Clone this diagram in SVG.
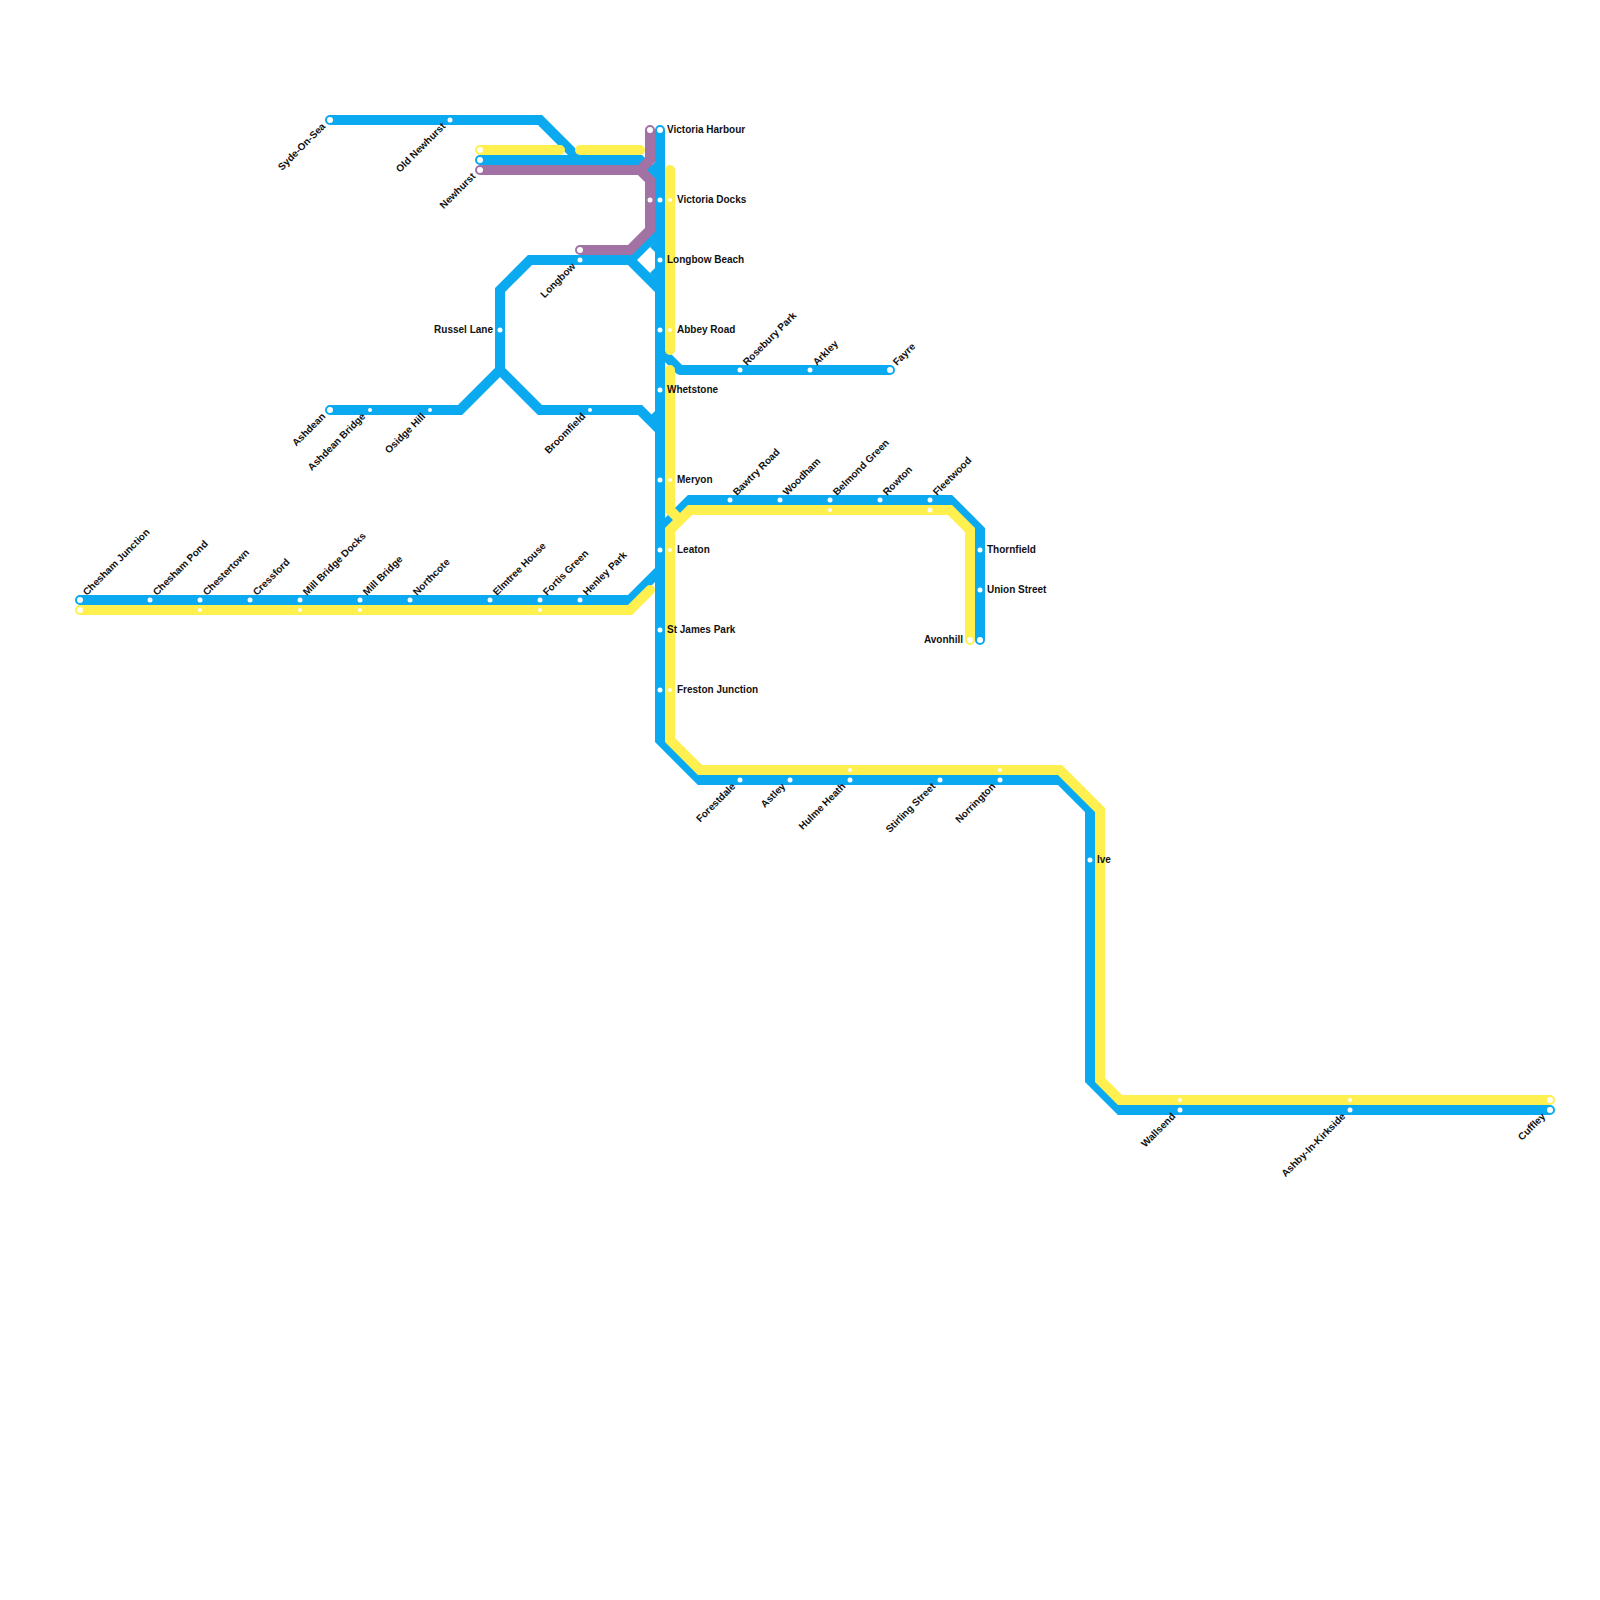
<svg xmlns="http://www.w3.org/2000/svg" width="1600" height="1600" viewBox="0 0 1600 1600">
<style>
.b,.y,.p{fill:none;stroke-width:10;stroke-linecap:round;stroke-linejoin:miter}
.b{stroke:#0baaf0}.y{stroke:#fff050}.p{stroke:#a272a5}
.butt{stroke-linecap:butt}
circle{fill:#fff}
.n{fill:#0baaf0}
text{font-family:"Liberation Sans",Arial,sans-serif;font-size:10px;font-weight:bold;fill:#111}
.e{text-anchor:end}
</style>
<rect width="1600" height="1600" fill="#fff"/>
<g id="connectors">
<path class="b" d="M330 120H540L580 160"/>
<path class="b" d="M480 160H640L660 180"/>
<polygon class="n" points="647,170 656,161 656,179"/>
<path class="b" d="M660 130V740L700 780H1060L1090 810V1080L1120 1110H1550"/>
<path class="b" d="M580 260H530L500 290V370L460 410H330"/>
<path class="b butt" d="M500 370L540 410H640L660 430"/>
<polygon class="n" points="650,416 656,410 656,426"/>
<path class="b butt" d="M580 260H630L660 290M630 260L660 230"/>
<polygon class="n" points="650,247 656,253 656,240"/>
<polygon class="n" points="650,273 656,267 656,280"/>
<path class="b butt" d="M660 350L680 370"/>
<path class="b" d="M680 370H890"/>
<path class="b" d="M80 600H630L660 570"/>
<path class="b" d="M980 640V530L950 500H690L660 530"/>
<path class="y" d="M80 610H630L650 590"/>
<path class="y" d="M480 150H560M580 150H640"/>
<path class="y" d="M670 170V350"/>
<path class="y" d="M670 370V510L680 520"/>
<path class="y" d="M970 640V530L950 510H690L670 530V740L700 770H1060L1100 810V1080L1120 1100H1550"/>
<path class="p" d="M650 130V160L640 170H480M640 170L650 180V230L630 250H580"/>
</g>
<g id="stations">
<g id="chesham-junction"><circle cx="80" cy="600" r="3"/><circle cx="80" cy="610" r="3"/><text transform="translate(87 596) rotate(-45)">Chesham Junction</text></g>
<g id="chesham-pond"><circle cx="150" cy="600" r="2.5"/><text transform="translate(157 596) rotate(-45)">Chesham Pond</text></g>
<g id="chestertown"><circle cx="200" cy="600" r="2.5"/><circle cx="200" cy="610" r="2"/><text transform="translate(207 596) rotate(-45)">Chestertown</text></g>
<g id="cressford"><circle cx="250" cy="600" r="2.5"/><text transform="translate(257 596) rotate(-45)">Cressford</text></g>
<g id="mill-bridge-docks"><circle cx="300" cy="600" r="2.5"/><circle cx="300" cy="610" r="2"/><text transform="translate(307 596) rotate(-45)">Mill Bridge Docks</text></g>
<g id="mill-bridge"><circle cx="360" cy="600" r="2.5"/><circle cx="360" cy="610" r="2"/><text transform="translate(367 596) rotate(-45)">Mill Bridge</text></g>
<g id="northcote"><circle cx="410" cy="600" r="2.5"/><text transform="translate(417 596) rotate(-45)">Northcote</text></g>
<g id="elmtree-house"><circle cx="490" cy="600" r="2.5"/><text transform="translate(497 596) rotate(-45)">Elmtree House</text></g>
<g id="fortis-green"><circle cx="540" cy="600" r="2.5"/><circle cx="540" cy="610" r="2"/><text transform="translate(547 596) rotate(-45)">Fortis Green</text></g>
<g id="henley-park"><circle cx="580" cy="600" r="2.5"/><text transform="translate(587 596) rotate(-45)">Henley Park</text></g>
<g id="syde-on-sea"><circle cx="330" cy="120" r="3"/><text class="e" transform="translate(326 127) rotate(-45)">Syde-On-Sea</text></g>
<g id="old-newhurst"><circle cx="450" cy="120" r="2.5"/><text class="e" transform="translate(446 127) rotate(-45)">Old Newhurst</text></g>
<g id="newhurst"><circle cx="480" cy="150" r="3"/><circle cx="480" cy="160" r="3"/><circle cx="480" cy="170" r="3"/><text class="e" transform="translate(476 177) rotate(-45)">Newhurst</text></g>
<g id="ashdean"><circle cx="330" cy="410" r="3"/><text class="e" transform="translate(326 417) rotate(-45)">Ashdean</text></g>
<g id="ashdean-bridge"><circle cx="370" cy="410" r="2"/><text class="e" transform="translate(366 417) rotate(-45)">Ashdean Bridge</text></g>
<g id="osidge-hill"><circle cx="430" cy="410" r="2"/><text class="e" transform="translate(426 417) rotate(-45)">Osidge Hill</text></g>
<g id="broomfield"><circle cx="590" cy="410" r="2"/><text class="e" transform="translate(586 417) rotate(-45)">Broomfield</text></g>
<g id="russel-lane"><circle cx="500" cy="330" r="2.5"/><text class="e" x="493" y="333">Russel Lane</text></g>
<g id="longbow"><circle cx="580" cy="260" r="2.5"/><circle cx="580" cy="250" r="3"/><text class="e" transform="translate(576 267) rotate(-45)">Longbow</text></g>
<g id="victoria-harbour"><circle cx="660" cy="130" r="3"/><circle cx="650" cy="130" r="3"/><text x="667" y="133">Victoria Harbour</text></g>
<g id="victoria-docks"><circle cx="650" cy="200" r="2.5"/><circle cx="660" cy="200" r="2.5"/><circle cx="670" cy="200" r="2"/><text x="677" y="203">Victoria Docks</text></g>
<g id="longbow-beach"><circle cx="660" cy="260" r="2.5"/><text x="667" y="263">Longbow Beach</text></g>
<g id="abbey-road"><circle cx="660" cy="330" r="2.5"/><circle cx="670" cy="330" r="2"/><text x="677" y="333">Abbey Road</text></g>
<g id="whetstone"><circle cx="660" cy="390" r="2.5"/><text x="667" y="393">Whetstone</text></g>
<g id="meryon"><circle cx="660" cy="480" r="2.5"/><circle cx="670" cy="480" r="2"/><text x="677" y="483">Meryon</text></g>
<g id="leaton"><circle cx="660" cy="550" r="2.5"/><circle cx="670" cy="550" r="2"/><text x="677" y="553">Leaton</text></g>
<g id="st-james-park"><circle cx="660" cy="630" r="2.5"/><text x="667" y="633">St James Park</text></g>
<g id="freston-junction"><circle cx="660" cy="690" r="2.5"/><circle cx="670" cy="690" r="2"/><text x="677" y="693">Freston Junction</text></g>
<g id="rosebury-park"><circle cx="740" cy="370" r="2.5"/><text transform="translate(747 366) rotate(-45)">Rosebury Park</text></g>
<g id="arkley"><circle cx="810" cy="370" r="2.5"/><text transform="translate(817 366) rotate(-45)">Arkley</text></g>
<g id="fayre"><circle cx="890" cy="370" r="3"/><text transform="translate(897 366) rotate(-45)">Fayre</text></g>
<g id="bawtry-road"><circle cx="730" cy="500" r="2.5"/><text transform="translate(737 496) rotate(-45)">Bawtry Road</text></g>
<g id="woodham"><circle cx="780" cy="500" r="2.5"/><text transform="translate(787 496) rotate(-45)">Woodham</text></g>
<g id="belmond-green"><circle cx="830" cy="500" r="2.5"/><circle cx="830" cy="510" r="2"/><text transform="translate(837 496) rotate(-45)">Belmond Green</text></g>
<g id="rowton"><circle cx="880" cy="500" r="2.5"/><text transform="translate(887 496) rotate(-45)">Rowton</text></g>
<g id="fleetwood"><circle cx="930" cy="500" r="2.5"/><circle cx="930" cy="510" r="2.5"/><text transform="translate(937 496) rotate(-45)">Fleetwood</text></g>
<g id="thornfield"><circle cx="980" cy="550" r="2.5"/><text x="987" y="553">Thornfield</text></g>
<g id="union-street"><circle cx="980" cy="590" r="2.5"/><text x="987" y="593">Union Street</text></g>
<g id="avonhill"><circle cx="970" cy="640" r="3"/><circle cx="980" cy="640" r="3"/><text class="e" x="963" y="643">Avonhill</text></g>
<g id="forestdale"><circle cx="740" cy="780" r="2.5"/><text class="e" transform="translate(736 787) rotate(-45)">Forestdale</text></g>
<g id="astley"><circle cx="790" cy="780" r="2.5"/><text class="e" transform="translate(786 787) rotate(-45)">Astley</text></g>
<g id="hulme-heath"><circle cx="850" cy="780" r="2.5"/><circle cx="850" cy="770" r="2"/><text class="e" transform="translate(846 787) rotate(-45)">Hulme Heath</text></g>
<g id="stirling-street"><circle cx="940" cy="780" r="2.5"/><text class="e" transform="translate(936 787) rotate(-45)">Stirling Street</text></g>
<g id="norrington"><circle cx="1000" cy="780" r="2.5"/><circle cx="1000" cy="770" r="2"/><text class="e" transform="translate(996 787) rotate(-45)">Norrington</text></g>
<g id="ive"><circle cx="1090" cy="860" r="2.5"/><circle cx="1100" cy="860" r="2"/><text x="1097" y="863">Ive</text></g>
<g id="wallsend"><circle cx="1180" cy="1110" r="2.5"/><circle cx="1180" cy="1100" r="2"/><text class="e" transform="translate(1176 1117) rotate(-45)">Wallsend</text></g>
<g id="ashby"><circle cx="1350" cy="1110" r="2.5"/><circle cx="1350" cy="1100" r="2"/><text class="e" transform="translate(1346 1117) rotate(-45)">Ashby-In-Kirkside</text></g>
<g id="cuffley"><circle cx="1550" cy="1110" r="3"/><circle cx="1550" cy="1100" r="3"/><text class="e" transform="translate(1546 1117) rotate(-45)">Cuffley</text></g>
</g>
</svg>
